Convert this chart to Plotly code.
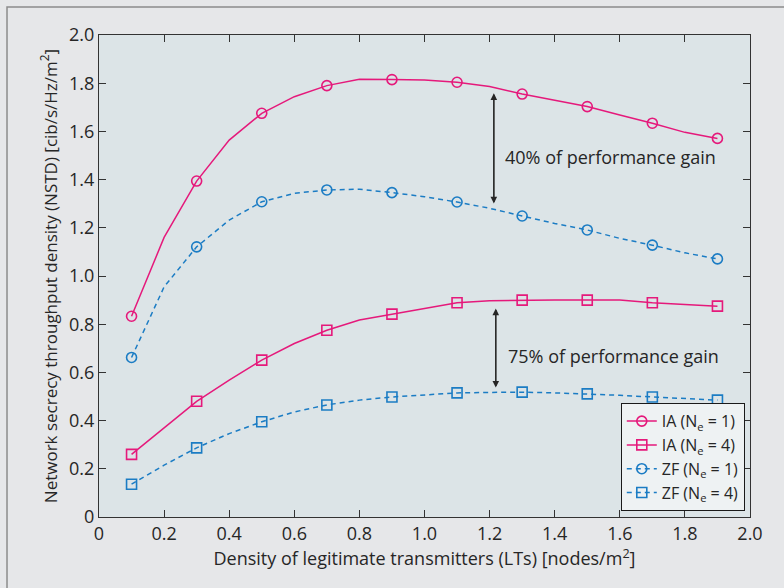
import plotly.graph_objects as go

# Density of legitimate transmitters (nodes/m^2); markers every other sample
x = [0.1, 0.2, 0.3, 0.4, 0.5, 0.6, 0.7, 0.8, 0.9, 1.0,
     1.1, 1.2, 1.3, 1.4, 1.5, 1.6, 1.7, 1.8, 1.9]

ia_ne1 = [0.833, 1.160, 1.394, 1.564, 1.675, 1.744, 1.790, 1.816, 1.815, 1.813,
          1.804, 1.786, 1.755, 1.730, 1.703, 1.668, 1.634, 1.596, 1.571]
ia_ne4 = [0.260, 0.371, 0.480, 0.568, 0.651, 0.720, 0.775, 0.817, 0.842, 0.865,
          0.889, 0.897, 0.900, 0.900, 0.900, 0.900, 0.889, 0.882, 0.875]
zf_ne1 = [0.662, 0.955, 1.121, 1.232, 1.308, 1.343, 1.357, 1.360, 1.346, 1.329,
          1.307, 1.281, 1.249, 1.218, 1.191, 1.156, 1.128, 1.096, 1.071]
zf_ne4 = [0.136, 0.215, 0.287, 0.346, 0.395, 0.436, 0.465, 0.485, 0.498, 0.508,
          0.515, 0.517, 0.518, 0.515, 0.511, 0.505, 0.498, 0.492, 0.485]

series_names = ["IA (N<sub>e</sub> = 1)", "IA (N<sub>e</sub> = 4)",
                "ZF (N<sub>e</sub> = 1)", "ZF (N<sub>e</sub> = 4)"]

tick_vals_x = [0, 0.2, 0.4, 0.6, 0.8, 1.0, 1.2, 1.4, 1.6, 1.8, 2.0]
tick_text_x = ["0", "0.2", "0.4", "0.6", "0.8", "1.0", "1.2", "1.4", "1.6", "1.8", "2.0"]
tick_vals_y = [0, 0.2, 0.4, 0.6, 0.8, 1.0, 1.2, 1.4, 1.6, 1.8, 2.0]
tick_text_y = ["0", "0.2", "0.4", "0.6", "0.8", "1.0", "1.2", "1.4", "1.6", "1.8", "2.0"]

PINK = "#e5197b"
BLUE = "#1b7cc4"
FONT = "Open Sans"
TXT = "#262626"

styles = [
    (ia_ne1, PINK, "solid", "circle-open", 10),
    (ia_ne4, PINK, "solid", "square-open", 10),
    (zf_ne1, BLUE, "5px,4px", "circle-open", 10),
    (zf_ne4, BLUE, "5px,4px", "square-open", 10),
]

fig = go.Figure()

for name, (ys, color, dash, symbol, msize) in zip(series_names, styles):
    # full curve through every sample
    fig.add_trace(go.Scatter(
        x=x, y=ys, mode="lines", showlegend=False, hoverinfo="skip",
        line=dict(color=color, width=1.5, dash=dash),
    ))
    # markers on alternate samples
    fig.add_trace(go.Scatter(
        x=x[::2], y=ys[::2], mode="markers", showlegend=False,
        marker=dict(symbol=symbol, size=msize, color=color,
                    line=dict(color=color, width=1.6)),
    ))
    # legend entry
    fig.add_trace(go.Scatter(
        x=[None], y=[None], mode="lines+markers", name=name,
        line=dict(color=color, width=1.5, dash=dash),
        marker=dict(symbol=symbol, size=msize, color=color,
                    line=dict(color=color, width=1.6)),
    ))

# double-headed arrows marking the gain between IA and ZF
arrows = [(1.213, 1.758, 1.301), (1.219, 0.865, 0.537)]
for ax_x, y_top, y_bot in arrows:
    for y_head, y_tail in [(y_top, y_bot), (y_bot, y_top)]:
        fig.add_annotation(
            x=ax_x, y=y_head, ax=ax_x, ay=y_tail,
            xref="x", yref="y", axref="x", ayref="y",
            text="", showarrow=True, arrowhead=2, arrowsize=1.1,
            arrowwidth=1.2, arrowcolor="#262626",
        )

fig.add_annotation(x=1.24, y=1.495, xref="x", yref="y", text="40% of performance gain",
                   showarrow=False, xanchor="left", yanchor="middle",
                   font=dict(family=FONT, size=18, color=TXT))
fig.add_annotation(x=1.25, y=0.667, xref="x", yref="y", text="75% of performance gain",
                   showarrow=False, xanchor="left", yanchor="middle",
                   font=dict(family=FONT, size=18, color=TXT))

# outer frame
fig.add_shape(type="rect", xref="paper", yref="paper",
              x0=-0.1413, x1=1.2, y0=-0.3, y1=1.058,
              line=dict(color="#8c8c8c", width=1.5), layer="below")

axis_common = dict(
    showgrid=False, zeroline=False, showline=True, linecolor="#333333",
    linewidth=1.2, mirror="ticks", ticks="inside", ticklen=7,
    tickcolor="#333333", tickwidth=1.2,
    tickfont=dict(family=FONT, size=18, color=TXT),
)

fig.update_layout(
    width=784, height=588,
    margin=dict(l=99, r=34, t=35, b=71),
    paper_bgcolor="#e6e7e9",
    plot_bgcolor="#dce4e7",
    xaxis=dict(range=[0, 2.0], tickvals=tick_vals_x, ticktext=tick_text_x,
               title=dict(text="Density of legitimate transmitters (LTs) [nodes/m<sup>2</sup>]",
                          font=dict(family=FONT, size=18, color=TXT), standoff=3),
               **axis_common),
    yaxis=dict(range=[0, 2.0], tickvals=tick_vals_y, ticktext=tick_text_y,
               title=dict(text="Network secrecy throughput density (NSTD) [cib/s/Hz/m<sup>2</sup>]",
                          font=dict(family=FONT, size=17, color=TXT), standoff=7),
               **axis_common),
    legend=dict(x=0.992, y=0.012, xanchor="right", yanchor="bottom",
                bgcolor="#eef2f3", bordercolor="#1a1a1a", borderwidth=1,
                font=dict(family=FONT, size=16, color=TXT),
                tracegroupgap=0, itemwidth=30),
    showlegend=True,
)

fig.write_html("out.html")
